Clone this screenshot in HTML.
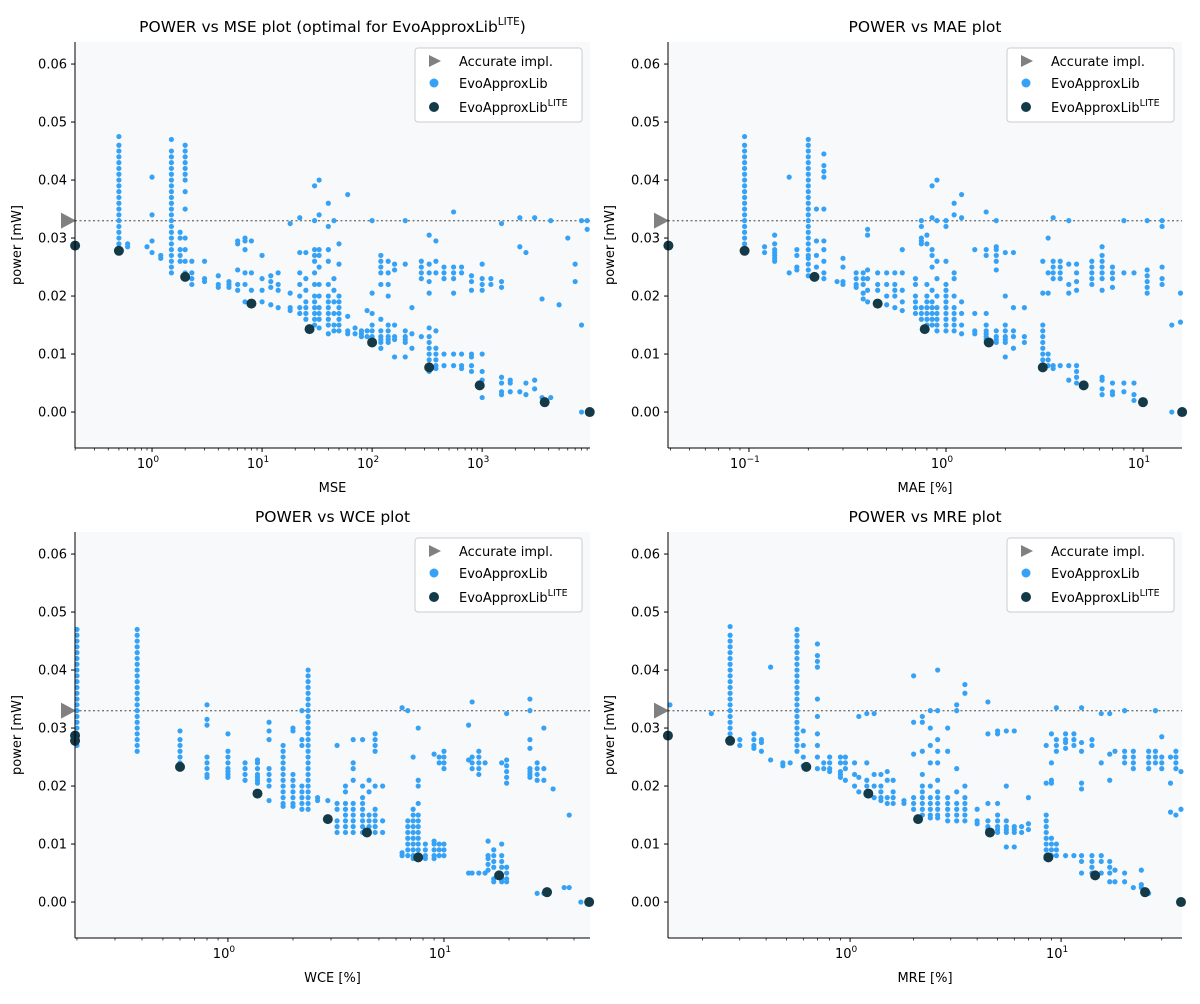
<!DOCTYPE html>
<html><head><meta charset="utf-8"><style>
body{margin:0;background:#fff;font-family:"DejaVu Sans","Liberation Sans",sans-serif}
svg text{font-family:"DejaVu Sans","Liberation Sans",sans-serif}
</style></head><body>
<svg id="fig" width="1200" height="1000" viewBox="0 0 1200 1000" xmlns="http://www.w3.org/2000/svg"></svg>
<script>
// y values in thousandths of mW
const mseCols = [[0.5,[28,29,30,31,32,33,34,35,36,37,38,39,40,41,42,43,44,45,46,47.5]],[0.6,[28.5,29]],[0.9,[28.5]],[1,[27.5,29.5,34,40.5]],[1.2,[27,26.5]],
[1.5,[24,25,26,27,28,29,30,31,32,33,34,35,36,37,38,39,40,41,42,43,44,45,47]],[1.8,[26,27,28,30,31]],[2,[23,24,26,28,30,35,38,40,41,42,43,44,45,46]],
[2.3,[22,23,24,26]],[3,[22.5,23,26]],[4,[21.5,22,23.5]],[5,[21.5,22,22.5]],[6,[21,22,24.5,29,29.5]],[7,[19,22,24,28,29.5,30]],[8,[19,21,24,29.5]],[10,[19,21,23,27]],
[12,[18.5,21.5,22.5,23.5]],[14,[18,21,22,24]],[18,[17.5,18,20.5,32.5]],[22,[17,18,20,22,24,27.5,33.5]],[25,[16,17,18,19,21,23,27.5]],
[30,[15,16,17,18,19,20,22,24,26,27,28,33,39]],[33,[14.5,16,17,18,20,22,25,27,28,34,40]],[40,[13.5,15,16,17,18,19,20,22,26,28,32,36]],[45,[14,15,17,19,21,23,33]],
[50,[14,15,16,17,18,19,20,25.5,29]],[60,[13.5,14,16.5,37.5]],[70,[13.5,14.5]],[80,[13,13.5,14]],[90,[13,14,17.5]],[100,[12,12.5,13,14,15,17,20.5,33]],
[120,[11,12,12.5,13,14,16,22,24,25,26,27]],[140,[12,12.5,13,14,15,20,22,24,26]],[160,[9.5,12.5,13,15,24.5,25.5]],[200,[9.5,12,12.5,13,14,25.5,33]],[230,[11,13.5,18]],
[280,[13,23,24,25,26]],[330,[7,8,9,10,11,12,13,14.5,20.5,22.5,24,25.5,30.5]],[380,[7.5,8,9,10,11,14,24,26,29.5]],[450,[8,10,23,24,25]],[550,[8,10,20.5,23,24,25,34.5]],
[650,[7.5,8,10,24,25]],[800,[7,8,9.5,10,21,22.5,23.5]],[1000,[2.5,4.5,5.5,7,10,21,22,23,25.5]],[1200,[22,23]],[1500,[3,3.5,5,6,21.5,22.5,32.5]],[1800,[3.5,5,5.5]],
[2200,[3.5,28.5,33.5]],[2500,[3,5,27.5]],[3000,[4,5.5,33.5]],[3500,[2.5,19.5]],[4200,[2.5,33]],[5000,[18.5]],[6000,[30]],[7000,[22.5,25.5]],[8000,[0,15,33]],[9000,[31.5,33]]];
const maeCols = [[0.095,[28,29,30,31,32,33,34,35,36,37,38,39,40,41,42,43,44,45,46,47.5]],[0.12,[27.5,28.5]],[0.135,[26,26.5,27,27.5,28,29,30.5]],[0.16,[24,40.5]],[0.175,[24.5,25,27,28]],
[0.2,[23.5,24.5,25.5,26.5,27,28,29,30,31,32,33,34,35,36,37,38,39,40,41,42,43,44,45,46,47]],[0.22,[23.5,25,27,29.5,35]],[0.24,[23,24,26,28,29.5,35,40.5,41.5,42.5,44.5]],
[0.28,[22.5]],[0.3,[22,22.5,25,26.5]],[0.35,[21.5,22,23,24]],[0.38,[19.5,20.5,22,23,24]],[0.4,[19,21,23,24.5,30.5,31.5]],[0.45,[19,21,22,24]],[0.5,[18.5,20,22,24]],
[0.55,[18,20,21,22,24]],[0.6,[17.5,19,21,24,28]],[0.7,[17,18,19,20,22,23]],[0.75,[16,17,18,29,29.5,30,32,33]],[0.8,[15,16,17,18,19,20,22,29,30.5]],
[0.85,[15,16,17,18,19,21,25,27,28,33.5,39]],[0.9,[14,15,16,17,18,20,23,26,33,40]],[1.0,[14,15,16,17,18,19,20,21,22,26,32,33]],[1.1,[14,15,16,17,18,20,23,24,34,36]],
[1.2,[13.5,15,17,19,33.5,37.5]],[1.4,[13.5,14,17,28]],[1.6,[12,12.5,13,13.5,14,15,17,27,28,34.5]],[1.8,[12,12.5,13,14,24.5,26,27,28,28.5,33]],[2,[9.5,12,12.5,13,14,15,20,27.5]],
[2.2,[11,13,14,18,27.5]],[2.5,[12,13,18]],[3.1,[8,9,10,11,12,13,14,15,20.5,26]],[3.3,[8,9,10,20.5,24,30]],[3.5,[7.5,8,23,24,25,26,33.5]],[3.8,[8,23,24,25,26]],
[4.2,[5.5,8,20.5,22,25.5,33]],[4.6,[5,6,7,8,21,22.5,24,25.5]],[5.5,[22,23,24,25,26]],[6.2,[3,4,5.5,6,21,23,24,25,26,27,28.5]],[7,[3,3.5,5,21.5,23,24,25]],
[8,[3.5,5,24,33]],[9,[2,3,5,24]],[10.5,[20.5,21.5,22.5,23.5,24.5,33]],[12.5,[22,23,25,32,33]],[14,[0,15]],[15.5,[15.5,20.5]]];
const wceCols = [[0.2,[27,28,29,30,31,32,33,34,35,36,37,38,39,40,41,42,43,44,45,46,47]],[0.38,[26,27,28,29,30,31,32,33,34,35,36,37,38,39,40,41,42,43,44,45,46,47]],
[0.6,[24,25,26,27,28,29.5]],[0.8,[21.5,22,23,24,25,30.5,31.5,34]],[1.0,[21.5,22,22.5,23,24,25,26,29]],[1.2,[21,22,23,24]],[1.37,[20.5,21,21.5,22,23,24,24.5]],
[1.55,[17.5,20,21,22,23,28,29.5,31]],[1.8,[16.5,17,18,19,20,21,22,23,24,25,26,27]],[2.0,[16.5,17,18,19,20,21,22,29.5,30]],[2.2,[16,17,18,19,20,27,28,33]],
[2.35,[16,17,18,19,20,21,22,23,24,25,26,27,28,29,30,31,32,33,34,35,36,37,38,39,40]],[2.6,[18,17.5]],[2.9,[17.5]],[3.2,[12,13,14,16,17,27]],[3.5,[12,13,14,15,16,17,19,20]],
[3.8,[12,13,14,15,16,17,21,23,24,28]],[4.2,[12,13,14,15,16,17,18,20,28]],[4.5,[12,13,14,15,19,21]],[4.8,[12,13,14,15,16,20,26,27,28,29]],[5.2,[12,14,20]],
[6.4,[8,8.5,33.5]],[6.8,[8,9,10,11,12,13,14,33]],[7.2,[7.5,8,9,10,11,12,13,14,15,16,25]],[7.6,[8,9,10,11,12,13,14,15,17,20,21,30]],[8.2,[7.5,8,9,10]],
[9,[7.5,8,9,10,10.5,25.5]],[9.5,[8,9,10,24,25]],[10,[8,9,10,23,24,25,26]],[13,[5,24.5,30.5]],[13.5,[5,23,24,25,34.5]],[14.5,[5,22,23,24,25,26]],[15.5,[5,24]],
[16,[5.5,6.5,7.5,8,10.5]],[17,[3.5,4,6,7,8,9]],[18.5,[3.5,4,6,7,8,10,24]],[19.5,[3.5,4,5,6,20.5,21.5,22.5,23.5,24.5,32.5]],[25,[21.5,22,22.5,23,26.5,28,33,35]],
[27,[1.5,21,22,23,24]],[29,[1.5,21,23,30]],[32,[19.5]],[36,[2.5]],[38,[2.5,15]],[43,[0]]];
const mreCols = [[0.14,[34]],[0.22,[32.5]],[0.27,[28,29,30,31,32,33,34,35,36,37,38,39,40,41,42,43,44,45,46,47.5]],[0.3,[27,28]],[0.35,[26.5,27,28,29]],[0.38,[26,27.5,28]],
[0.42,[24.5,40.5]],[0.48,[24,23.5]],[0.52,[24]],[0.56,[26,27,28,29,30,31,32,33,34,35,36,37,38,39,40,41,42,43,44,45,46,47]],[0.6,[23.5,25,27,29.5]],
[0.7,[23,25,27,29,32,35,40.5,41.5,42.5,44.5]],[0.75,[23,24]],[0.8,[22.5,23,24,25]],[0.9,[21.5,22,22.5,24,25]],[0.95,[21,23,24,25]],[1.05,[20,22,24]],[1.1,[19,21.5,32]],
[1.2,[19,20,21,24,32.5]],[1.3,[18,20,22,32.5]],[1.4,[17.5,18,19,20,22]],[1.5,[17,18,21,22.5]],[1.6,[17,18,19,21]],[1.8,[17,17.5]],[2,[16,17,18,25.5,31,39]],
[2.2,[15,16,17,18,19,20,22,26,31,32]],[2.4,[14.5,15,16,17,18,20,24,27,30,33]],[2.6,[14.5,15,16,17,18,19,21,24,26,28,33,40]],[2.9,[14,15,16,17,18,26,30]],
[3.2,[14,15,16,17,19,23,33,34]],[3.5,[14,15,16,17,18,20,36,37.5]],[4,[13.5,14,16]],[4.5,[12,12.5,13,14,17,29,34.5]],[5,[12,12.5,13,14,15,17,29,29.5]],
[5.5,[9.5,12,12.5,13,14,20,29.5]],[6,[9.5,12,12.5,13,29.5]],[6.5,[12,13]],[7,[12.5,13.5,18]],[8.5,[7.5,8,9,10,11,12,13,14,15,20.5,27]],[9,[8,9,10,11,20.5,21,24,29]],
[9.5,[8,9,10,26,27,28,33.5]],[10.5,[8,26.5,27.5,28,29]],[11.5,[8,27,28,29]],[12.5,[5,7,8,19.5,20.5,26,27.5,33.5]],[14,[5,6,7,8,28,27]],[15.5,[5,7,8,24,32.5]],
[17,[3.5,5,6,7,21,25.5,32.5]],[18,[3.5,5.5,26]],[20,[3.5,5,24,25,26,33]],[22,[2.5,23,24,25,26]],[24,[2.5,3,5.5]],[26,[1.5,23,24,25,26]],[28,[24,25,26,33]],
[30,[23,24,25,28.5]],[33,[15.5,20.5,25]],[35,[15,23,24,25,26]],[37,[0,16,22.5]]];
const liteY = [28.7,27.8,23.3,18.7,14.3,12.0,7.7,4.6,1.7,0];
const mseLiteX = [0.2,0.5,2,8,27,100,330,950,3700,9500];
const maeLiteX = [0.039,0.095,0.215,0.45,0.78,1.65,3.1,5,10,15.8];
const wceLiteX = [0.196,0.196,0.6,1.37,2.9,4.4,7.6,18,30,47];
const mreLiteX = [0.137,0.27,0.62,1.22,2.1,4.6,8.7,14.5,25,37];
const accuratePower = 33;
const yTicks = [0,10,20,30,40,50,60];

const NS="http://www.w3.org/2000/svg", svg=document.getElementById('fig');
function mk(tag,attrs,parent){const e=document.createElementNS(NS,tag);for(const k in attrs)e.setAttribute(k,attrs[k]);(parent||svg).appendChild(e);return e;}
const panels=[
 {key:'mse',L:75,R:590,T:42,B:448,lmin:-0.7,lmax:3.98,cols:mseCols,lx:mseLiteX,xl:'MSE',title:'POWER vs MSE plot (optimal for EvoApproxLib',sup:true,dec:[0,1,2,3]},
 {key:'mae',L:668,R:1182,T:42,B:448,lmin:-1.411,lmax:1.198,cols:maeCols,lx:maeLiteX,xl:'MAE [%]',title:'POWER vs MAE plot',dec:[-1,0,1]},
 {key:'wce',L:75,R:590,T:532,B:938,lmin:-0.708,lmax:1.676,cols:wceCols,lx:wceLiteX,xl:'WCE [%]',title:'POWER vs WCE plot',dec:[0,1]},
 {key:'mre',L:668,R:1182,T:532,B:938,lmin:-0.863,lmax:1.573,cols:mreCols,lx:mreLiteX,xl:'MRE [%]',title:'POWER vs MRE plot',dec:[0,1]}];
const YMIN=-6.2,YMAX=63.8;
panels.forEach(p=>{
 const g=mk('g',{});
 
 
 const X=v=>p.L+(Math.log10(v)-p.lmin)/(p.lmax-p.lmin)*(p.R-p.L);
 const Y=v=>p.T+(YMAX-v)/(YMAX-YMIN)*(p.B-p.T);
 const bg=mk('rect',{x:p.L,y:p.T,width:p.R-p.L,height:p.B-p.T,fill:'#f8f9fb'},g);
 
 
 const t=mk('text',{x:(p.L+p.R)/2,y:p.T-10,'text-anchor':'middle','font-size':'15.5'},g);
 
 
 t.textContent=p.title;
 if(p.sup){const s=mk('tspan',{'font-size':'10.5',dy:'-7'},t);s.textContent='LITE';const s2=mk('tspan',{dy:'7'},t);s2.textContent=')';}
 yTicks.forEach(v=>{const y=Y(v);mk('line',{x1:p.L-4,x2:p.L,y1:y,y2:y,stroke:'#000'},g);
  const tx=mk('text',{x:p.L-8,y:y+4.5,'text-anchor':'end','font-size':'13'},g);
  
  
  tx.textContent=(v/1000).toFixed(2);});
 for(let d=Math.floor(p.lmin);d<=Math.ceil(p.lmax);d++){for(let m=1;m<10;m++){const lv=d+Math.log10(m);if(lv<p.lmin||lv>p.lmax)continue;const x=X(Math.pow(10,lv));
   mk('line',{x1:x,x2:x,y1:p.B,y2:p.B+(m==1?4:2.5),stroke:'#000','stroke-width':m==1?1:0.7},g);}}
 p.dec.forEach(d=>{const x=X(Math.pow(10,d));const tx=mk('text',{x:x-4,y:p.B+20,'text-anchor':'middle','font-size':'13'},g);
   
   
   tx.textContent='10';const s=mk('tspan',{'font-size':'9',dy:'-6'},tx);s.textContent=String(d).replace('-','−');});
 const xl=mk('text',{x:(p.L+p.R)/2,y:p.B+44,'text-anchor':'middle','font-size':'13'},g);
 
 
 xl.textContent=p.xl;
 const yl=mk('text',{x:0,y:0,'text-anchor':'middle','font-size':'13',transform:`translate(${p.L-54},${(p.T+p.B)/2}) rotate(-90)`},g);
 
 
 yl.textContent='power [mW]';
 const al=mk('line',{x1:p.L,x2:p.R,y1:Y(accuratePower),y2:Y(accuratePower),stroke:'#777','stroke-width':1.4,'stroke-dasharray':'2,2.5'},g);
 
 
 const ya=Y(accuratePower);
 const tri=mk('polygon',{points:`${p.L-14},${ya-8} ${p.L+1},${ya} ${p.L-14},${ya+8}`,fill:'#808080'},g);
 
 
 p.cols.forEach(c=>c[1].forEach(v=>{const pt=mk('circle',{cx:X(c[0]),cy:Y(v),r:2.6,fill:'#36a2f5'},g);
   
   }));
 p.lx.forEach((xv,i)=>{const pt=mk('circle',{cx:X(xv),cy:Y(liteY[i]),r:5,fill:'#143a48'},g);
   
   });
 mk('line',{x1:p.L,x2:p.L,y1:p.T,y2:p.B,stroke:'#000'},g);
 mk('line',{x1:p.L,x2:p.R,y1:p.B,y2:p.B,stroke:'#000'},g);
 const lg=mk('g',{},g);
 
 
 const lx=p.R-175,ly=p.T+6;
 mk('rect',{x:lx,y:ly,width:167,height:74,rx:3,fill:'#fff','fill-opacity':0.9,stroke:'#ccc'},lg);
 mk('polygon',{points:`${lx+14},${ly+7} ${lx+26},${ly+13} ${lx+14},${ly+19}`,fill:'#808080'},lg);
 mk('circle',{cx:lx+19,cy:ly+35,r:4.5,fill:'#36a2f5'},lg);
 mk('circle',{cx:lx+19,cy:ly+59,r:5,fill:'#143a48'},lg);
 [['Accurate impl.',ly+18,'legend-accurate'],['EvoApproxLib',ly+40,'legend-evoapproxlib'],['EvoApproxLib',ly+64,'legend-lite']].forEach((a,i)=>{
   const tx=mk('text',{x:lx+44,y:a[1],'font-size':'13'},lg);
   
   
   tx.textContent=a[0];
   if(i==2){const s=mk('tspan',{'font-size':'9.5',dy:'-6'},tx);s.textContent='LITE';}});
});
</script>
</body></html>
